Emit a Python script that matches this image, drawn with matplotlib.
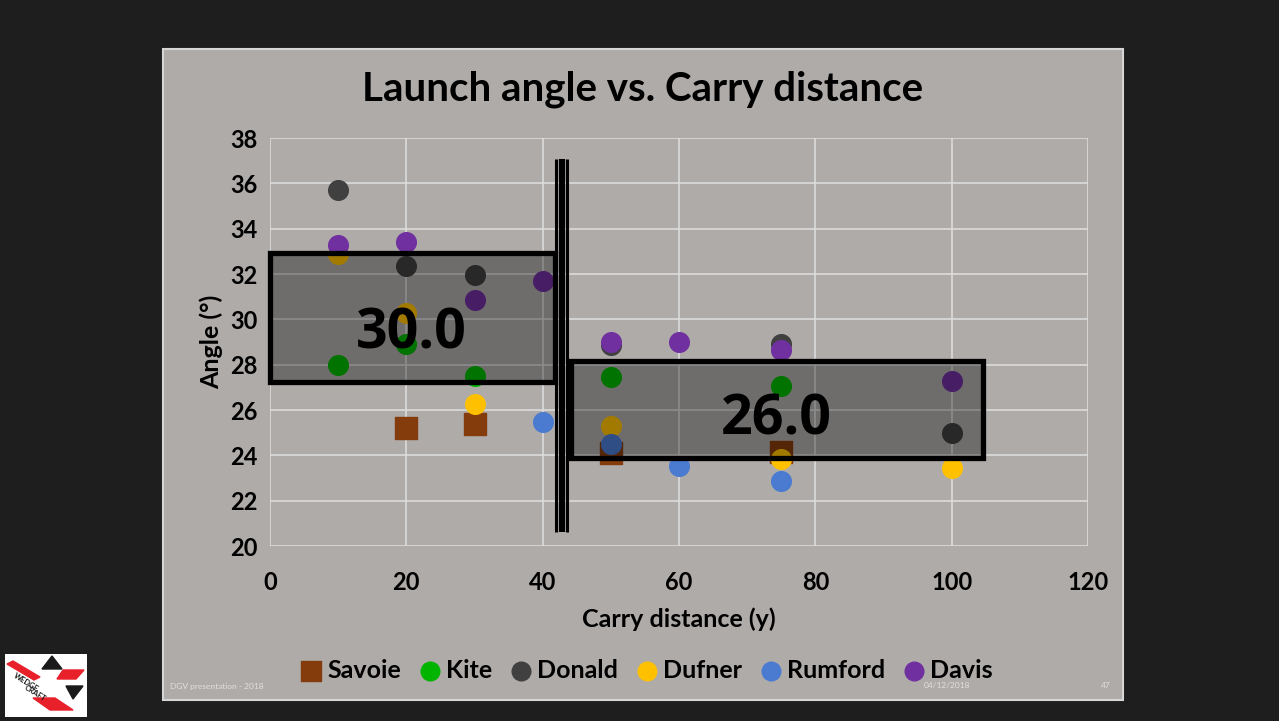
import matplotlib.pyplot as plt
from matplotlib.patches import Rectangle, Polygon
from matplotlib.lines import Line2D

plt.rcParams['font.family'] = ['Lato', 'DejaVu Sans']

# carry distance (y) / launch angle (deg)
savoie_x = [20, 30, 50, 75]
savoie_y = [25.2, 25.4, 24.1, 24.15]
kite_x = [10, 20, 30, 50, 75]
kite_y = [28.0, 28.9, 27.5, 27.45, 27.05]
donald_x = [10, 20, 30, 50, 75, 100]
donald_y = [35.7, 32.35, 31.95, 28.85, 28.9, 25.0]
dufner_x = [10, 20, 30, 50, 75, 100]
dufner_y = [32.9, 30.3, 26.25, 25.3, 23.85, 23.45]
rumford_x = [40, 50, 60, 75]
rumford_y = [25.45, 24.5, 23.55, 22.85]
davis_x = [10, 20, 30, 40, 50, 60, 75, 100]
davis_y = [33.3, 33.4, 30.85, 31.7, 28.98, 29.0, 28.65, 27.3]

x_ticks = [0, 20, 40, 60, 80, 100, 120]
y_ticks = [20, 22, 24, 26, 28, 30, 32, 34, 36, 38]
box_labels = ['30.0', '26.0']

W, H = 1279, 721
fig = plt.figure(figsize=(W / 100, H / 100), dpi=100)
fig.patch.set_facecolor('#1e1e1e')

# background layer in pixel coords (slide panel, logo, footer)
bg = fig.add_axes([0, 0, 1, 1], zorder=0)
bg.set_xlim(0, W)
bg.set_ylim(H, 0)
bg.axis('off')
bg.add_patch(Rectangle((163, 49), 960, 651, facecolor='#afaba9',
                       edgecolor='#d6d6d6', lw=1.5))

# logo
bg.add_patch(Rectangle((5, 654), 82, 63, facecolor='white', edgecolor='none'))
bg.add_patch(Polygon([(42, 669), (52, 656), (62, 669)], color='#1a1a1a'))
bg.add_patch(Polygon([(63, 670), (84, 670), (76, 679), (57, 679)], color='#e8202a'))
bg.add_patch(Polygon([(66, 686), (83, 686), (73, 699)], color='#1a1a1a'))
bg.add_patch(Polygon([(7, 664), (13, 661), (40, 677), (34, 680)], color='#e8202a'))
bg.add_patch(Polygon([(33, 698), (55, 698), (73, 710), (50, 710)], color='#e8202a'))
bg.text(26, 682, 'WEDGE', rotation=-32, fontsize=5.5, weight='bold',
        color='#1a1a1a', ha='center', va='center')
bg.text(35, 693, 'CRAFT', rotation=-32, fontsize=5.5, weight='bold',
        color='#1a1a1a', ha='center', va='center')

# footer
bg.text(170, 686, 'DGV presentation - 2018', fontsize=6, color='#e0e0e0',
        ha='left', va='center')
bg.text(947, 686, '04/12/2018', fontsize=6, color='#e0e0e0',
        ha='center', va='center')
bg.text(1106, 686, '47', fontsize=6, color='#e0e0e0', ha='center', va='center')

# chart
ax = fig.add_axes([270 / W, 1 - 546 / H, 818 / W, 408 / H], zorder=1)
ax.set_facecolor('none')
ms = 200
ax.scatter(savoie_x, savoie_y, s=230, marker='s', color='#843c0c', label='Savoie', zorder=3)
ax.scatter(kite_x, kite_y, s=ms, color='#00b400', label='Kite', zorder=3)
ax.scatter(donald_x, donald_y, s=ms, color='#404040', label='Donald', zorder=3)
ax.scatter(dufner_x, dufner_y, s=ms, color='#ffc000', label='Dufner', zorder=3)
ax.scatter(rumford_x, rumford_y, s=ms, color='#4a7bd0', label='Rumford', zorder=3)
ax.scatter(davis_x, davis_y, s=ms, color='#7030a0', label='Davis', zorder=3)

ax.set_xlim(0, 120)
ax.set_ylim(20, 38)
ax.set_xticks(x_ticks)
ax.set_yticks(y_ticks)
ax.grid(True, color='#dcdcdc', lw=1.2, zorder=0)
for s in ax.spines.values():
    s.set_visible(False)
ax.tick_params(length=0, labelsize=17)
ax.tick_params(axis='x', pad=18)
ax.tick_params(axis='y', pad=9)
for t in ax.get_xticklabels() + ax.get_yticklabels():
    t.set_fontweight('bold')
ax.set_xlabel('Carry distance (y)', fontsize=18, weight='bold', labelpad=10)
ax.set_ylabel('Angle (°)', fontsize=18, weight='bold', labelpad=5)
fig.text(643 / W, 1 - 89 / H, 'Launch angle vs. Carry distance', fontsize=29,
         weight='bold', ha='center', va='center')

fig.legend(loc='center', bbox_to_anchor=(647 / W, 1 - 670 / H), ncol=6,
           frameon=False, prop={'weight': 'bold', 'size': 18},
           handlelength=0.8, handletextpad=0.25, columnspacing=0.75,
           markerscale=0.95)

# slide overlay shapes in pixel coords
ov = fig.add_axes([0, 0, 1, 1], zorder=2)
ov.set_xlim(0, W)
ov.set_ylim(H, 0)
ov.axis('off')
ov.patch.set_alpha(0)
ov.add_patch(Rectangle((270, 253), 285, 129, facecolor=(0, 0, 0, 0.36),
                       edgecolor='black', lw=3.8))
ov.add_patch(Rectangle((571, 361), 412, 97, facecolor=(0, 0, 0, 0.36),
                       edgecolor='black', lw=3.8))
ov.text(411, 334, box_labels[0], fontsize=40, weight='bold', family='Open Sans',
        ha='center', va='center')
ov.text(776, 420, box_labels[1], fontsize=40, weight='bold', family='Open Sans',
        ha='center', va='center')
for xc, lw in [(556, 2.2), (561.5, 4.5), (567, 2.2)]:
    ov.add_line(Line2D([xc, xc], [159, 532], color='black', lw=lw,
                       solid_capstyle='butt'))

fig.savefig('out.png', dpi=100, facecolor=fig.get_facecolor())
